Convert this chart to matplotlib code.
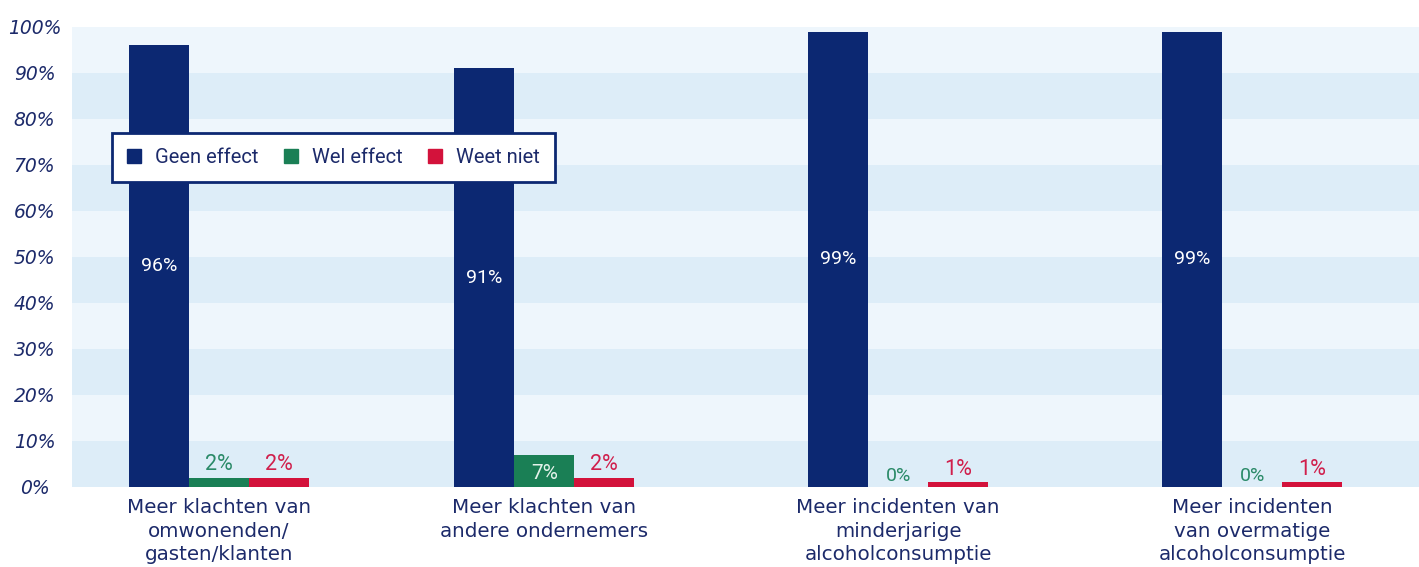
import matplotlib
matplotlib.use("Agg")
import matplotlib.pyplot as plt
from matplotlib.patches import Patch
import numpy as np

categories = [
    "Meer klachten van\nomwonenden/\ngasten/klanten",
    "Meer klachten van\nandere ondernemers",
    "Meer incidenten van\nminderjarige\nalcoholconsumptie",
    "Meer incidenten\nvan overmatige\nalcoholconsumptie",
]
series_names = ["Geen effect", "Wel effect", "Weet niet"]
geen_effect = [96, 91, 99, 99]
wel_effect = [2, 7, 0, 0]
weet_niet = [2, 2, 1, 1]
yticks = [0, 10, 20, 30, 40, 50, 60, 70, 80, 90, 100]

NAVY = "#0c2872"
GREEN = "#1a7f55"
RED = "#d3123b"
GREEN_TXT = "#2a8a68"
RED_TXT = "#d01f4c"
TXT = "#1c2a6a"
LIGHT = "#eef6fc"
DARK = "#ddedf8"

narrow = ["Roboto", "DejaVu Sans"]

fig = plt.figure(figsize=(14.19, 5.67), dpi=100)
ax = fig.add_axes([72 / 1419, 80 / 567, 1347 / 1419, 460 / 567])

# background bands
for i, lo in enumerate(yticks[:-1]):
    ax.axhspan(lo, lo + 10, color=DARK if i % 2 == 0 else LIGHT, lw=0, zorder=0)

bw = 1.0
centers = np.array([2.45, 7.87, 13.77, 19.67])

ax.bar(centers - bw, geen_effect, bw, color=NAVY, zorder=2)
ax.bar(centers, wel_effect, bw, color=GREEN, zorder=2)
ax.bar(centers + bw, weet_niet, bw, color=RED, zorder=2)

for x, v in zip(centers - bw, geen_effect):
    ax.text(x, v / 2, f"{v}%", color="white", ha="center", va="center",
            fontsize=14, family=narrow, zorder=3)
for x, v in zip(centers, wel_effect):
    if v >= 5:
        ax.text(x, v / 2 - 0.6, f"{v}%", color="#e4f2ea", ha="center", va="center",
                fontsize=15, family=narrow, zorder=3)
    else:
        ax.text(x, v + 0.5, f"{v}%", color=GREEN_TXT, ha="center", va="bottom",
                fontsize=15.5 if v > 0 else 14, family=narrow, zorder=3)
for x, v in zip(centers + bw, weet_niet):
    ax.text(x, v + 0.5, f"{v}%", color=RED_TXT, ha="center", va="bottom",
            fontsize=15.5, family=narrow, zorder=3)

ax.set_xlim(0, 1347 / 60)
ax.set_ylim(0, 100)
ax.set_yticks(yticks)
ax.set_yticklabels([f"{t}%" for t in yticks], fontsize=13.5, style="italic",
                   color=TXT, ha="center")
ax.set_xticks(centers)
ax.set_xticklabels(categories, fontsize=14.3, color=TXT, linespacing=1.3)
ax.tick_params(length=0)
ax.tick_params(axis="y", pad=27)
ax.tick_params(axis="x", pad=8)
for s in ax.spines.values():
    s.set_visible(False)

handles = [Patch(color=c) for c in (NAVY, GREEN, RED)]
leg = ax.legend(handles, series_names, loc="upper left",
                bbox_to_anchor=((112 - 72) / 1347, (487 - 133) / 460),
                borderaxespad=0, ncol=3, frameon=True, fancybox=False,
                handlelength=0.7, handleheight=0.7,
                columnspacing=1.25, handletextpad=0.7, borderpad=0.75,
                prop={"family": narrow, "size": 14.5})
leg.get_frame().set_edgecolor(NAVY)
leg.get_frame().set_linewidth(2)
leg.get_frame().set_facecolor("white")
leg.get_frame().set_alpha(1)
for t in leg.get_texts():
    t.set_color(TXT)

fig.savefig("out.png", dpi=100)
